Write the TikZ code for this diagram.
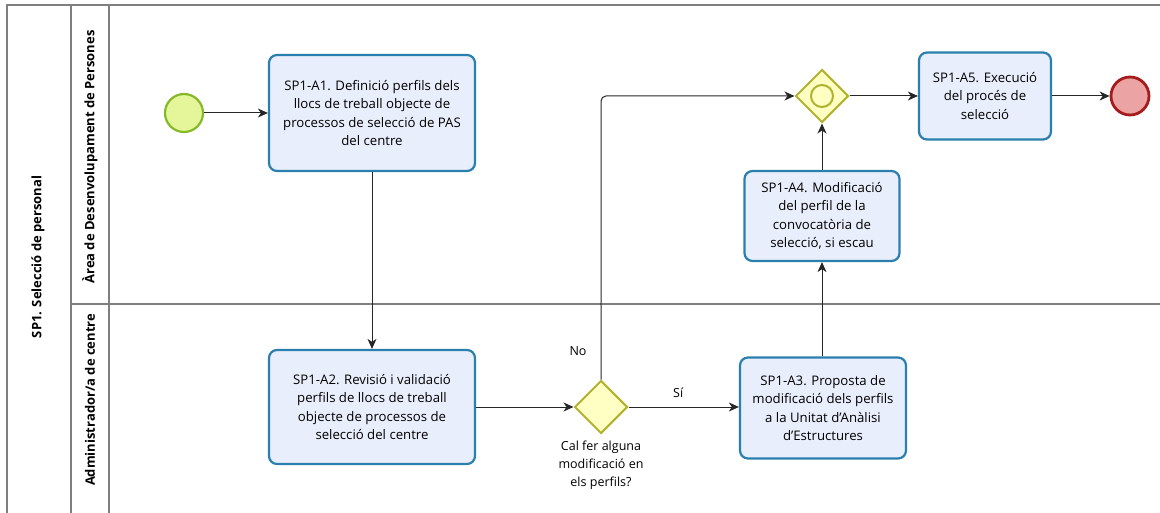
\documentclass[tikz,border=0pt]{standalone}
\usepackage{fontspec}
\setmainfont{Open Sans}
\usetikzlibrary{arrows.meta,shapes.geometric}
\definecolor{taskfill}{HTML}{E8EEFB}
\definecolor{taskdraw}{HTML}{2A7FAE}
\definecolor{gwfill}{HTML}{FFFFC4}
\definecolor{gwdraw}{HTML}{B2B22E}
\definecolor{startfill}{HTML}{E4F59A}
\definecolor{startdraw}{HTML}{86B92A}
\definecolor{endfill}{HTML}{EBA3A3}
\definecolor{enddraw}{HTML}{A61C1C}
\definecolor{poolline}{HTML}{7F7F7F}
\tikzset{
  task/.style={draw=taskdraw, fill=taskfill, line width=2.2pt, rounded corners=8pt,
    align=center, inner sep=0pt, font=\fontsize{13.2}{18.5}\selectfont},
  gw/.style={draw=gwdraw, fill=gwfill, line width=2pt, diamond, minimum width=53pt, minimum height=53pt, inner sep=0pt},
  startev/.style={circle, draw=startdraw, fill=startfill, line width=2.2pt, minimum size=38pt, inner sep=0pt},
  endev/.style={circle, draw=enddraw, fill=endfill, line width=2.8pt, minimum size=38pt, inner sep=0pt},
  flow/.style={draw=black!85, line width=1pt, -{Stealth[length=10pt,width=9pt,inset=3pt]}},
  pool/.style={draw=poolline, line width=1.6pt},
  lbl/.style={font=\fontsize{12.5}{18}\selectfont, align=center, inner sep=0pt},
  lanelbl/.style={font=\bfseries\fontsize{13}{15}\selectfont, rotate=90, inner sep=0pt}
}
\begin{document}
\begin{tikzpicture}[x=1pt,y=-1pt]
\useasboundingbox (0,0) rectangle (1160,513);
% pool and lanes
\draw[pool] (1160,5) -- (7,5) -- (7,513);
\draw[pool] (71,5) -- (71,513);
\draw[pool] (109,5) -- (109,513);
\draw[pool] (71,304) -- (1160,304);
\node[lanelbl] (pl) at (38,257) {SP1. Selecció de personal};
\node[lanelbl] (l1) at (90,157) {Àrea de Desenvolupament de Persones};
\node[lanelbl] (l2) at (90,400) {Administrador/a de centre};
% nodes
\node[startev] (st) at (184,113) {};
\node[task, minimum width=206pt, minimum height=116pt] (a1) at (372,113) {SP1-A1. Definició perfils dels\\llocs de treball objecte de\\processos de selecció de PAS\\del centre};
\node[task, minimum width=206pt, minimum height=114pt] (a2) at (372,407) {SP1-A2. Revisió i validació\\perfils de llocs de treball\\objecte de processos de\\selecció del centre};
\node[gw] (g1) at (601,407) {};
\node[lbl] (g1l) at (601,465) {Cal fer alguna\\modificació en\\els perfils?};
\node[task, minimum width=166pt, minimum height=101pt] (a3) at (823,408) {SP1-A3. Proposta de\\modificació dels perfils\\a la Unitat d'Anàlisi\\d'Estructures};
\node[task, minimum width=155pt, minimum height=90pt] (a4) at (822,216) {SP1-A4. Modificació\\del perfil de la\\convocatòria de\\selecció, si escau};
\node[gw] (g2) at (822,96) {};
\node[circle, draw=gwdraw, line width=2pt, minimum size=22pt, inner sep=0pt] (g2c) at (g2) {};
\node[task, minimum width=132pt, minimum height=87pt] (a5) at (985,96) {SP1-A5. Execució\\del procés de\\selecció};
\node[endev] (en) at (1130,96) {};
% flows
\draw[flow] (st) -- (a1.west |- st);
\draw[flow] (a1) -- (a2);
\draw[flow] (a2.east |- g1) -- (g1.west);
\draw[flow] (g1.east) -- node[lbl, above=9pt, pos=0.45] (si) {Sí} (a3.west |- g1);
\draw[flow, rounded corners=5pt] (g1.north) -- (g1.north |- g2) -- (g2.west);
\node[lbl] (no) at (578,351) {No};
\draw[flow] (a3.north -| a4) -- (a4.south);
\draw[flow] (a4.north) -- (g2.south);
\draw[flow] (g2.east) -- (a5.west |- g2);
\draw[flow] (a5.east |- en) -- (en.west);
\end{tikzpicture}
\end{document}
